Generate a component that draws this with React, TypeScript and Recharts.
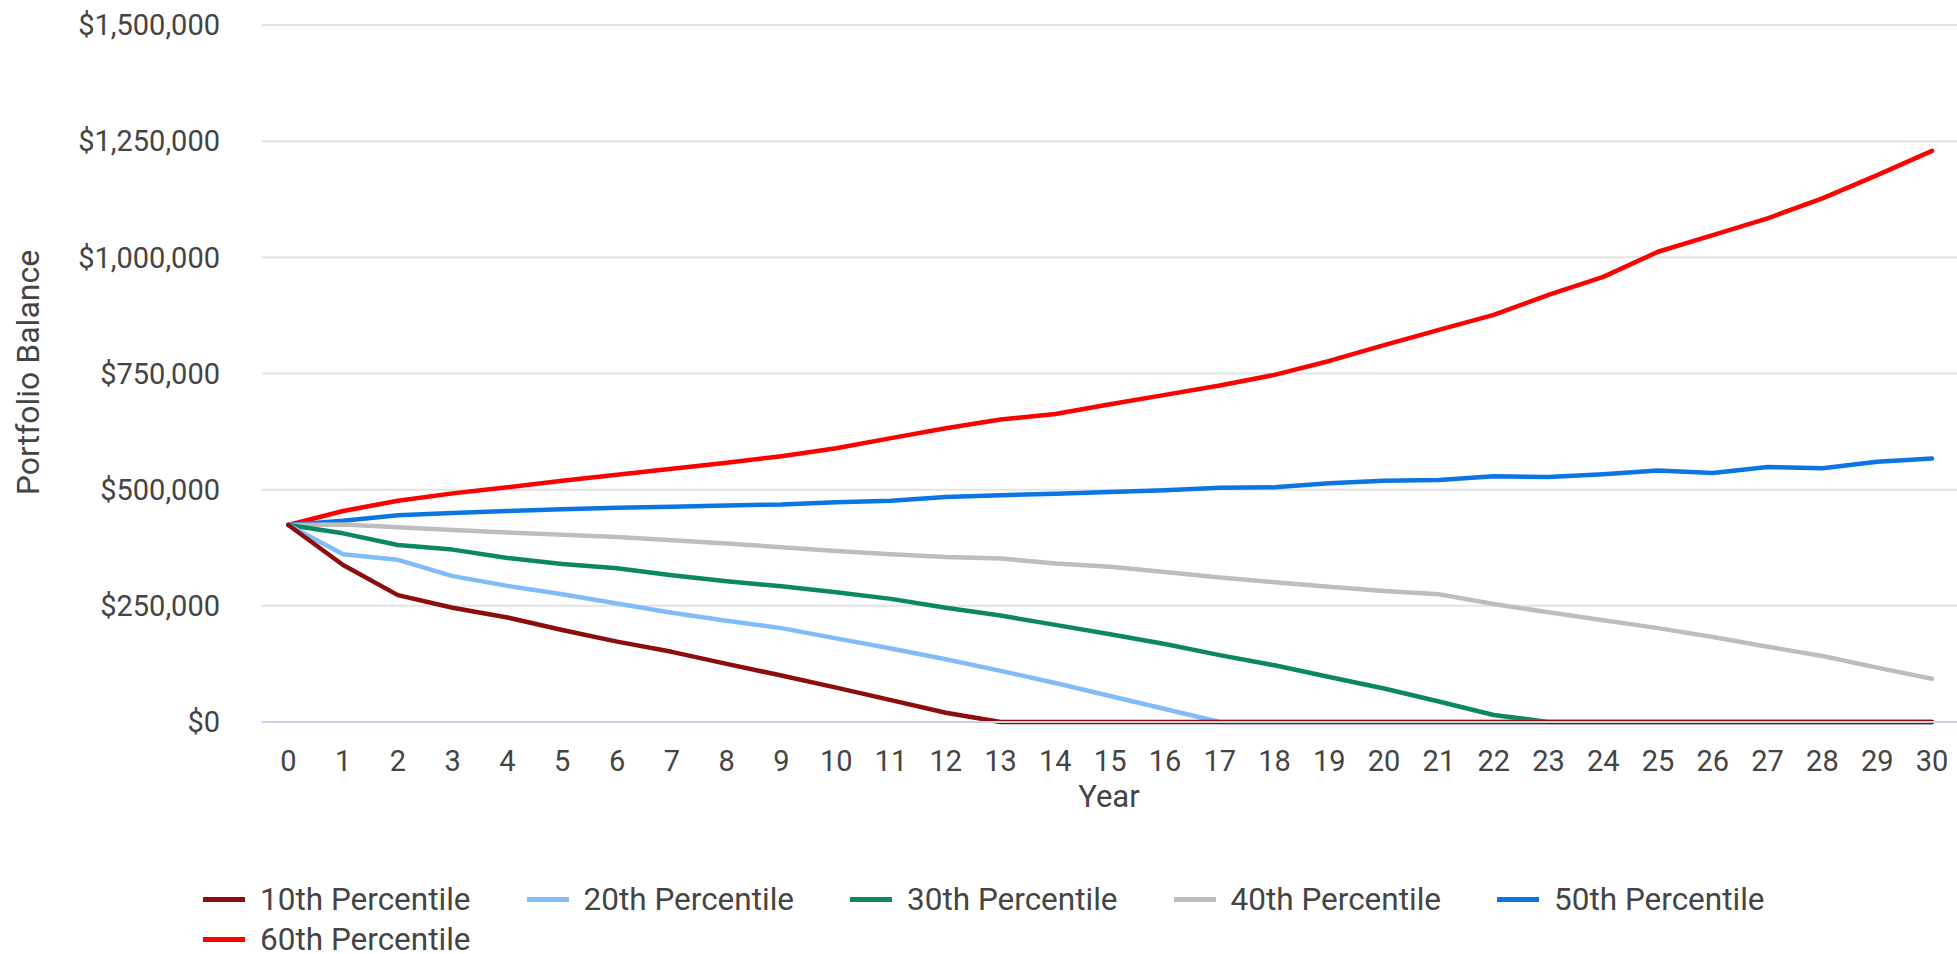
import React from 'react';
import { LineChart, Line, XAxis, YAxis, CartesianGrid, Legend } from 'recharts';

// Simulation years
const years = [0, 1, 2, 3, 4, 5, 6, 7, 8, 9, 10, 11, 12, 13, 14, 15, 16, 17, 18, 19, 20, 21, 22, 23, 24, 25, 26, 27, 28, 29, 30];

// Portfolio balance by percentile outcome (USD)
const p10 = [424000, 338000, 273000, 246000, 225000, 198000, 173000, 151000, 125000, 100000, 74000, 47000, 20000, 0, 0, 0, 0, 0, 0, 0, 0, 0, 0, 0, 0, 0, 0, 0, 0, 0, 0];
const p20 = [424000, 361000, 349000, 314000, 293000, 275000, 255000, 235000, 218000, 202000, 180000, 158000, 135000, 110000, 84000, 56000, 28000, 0, 0, 0, 0, 0, 0, 0, 0, 0, 0, 0, 0, 0, 0];
const p30 = [424000, 406000, 381000, 371000, 353000, 340000, 331000, 316000, 303000, 292000, 279000, 265000, 246000, 229000, 209000, 189000, 168000, 144000, 122000, 97000, 72000, 44000, 15000, 0, 0, 0, 0, 0, 0, 0, 0];
const p40 = [424000, 425000, 419000, 413000, 408000, 403000, 398000, 391000, 384000, 376000, 368000, 361000, 355000, 352000, 341000, 334000, 323000, 311000, 301000, 291000, 282000, 275000, 254000, 236000, 219000, 202000, 183000, 162000, 142000, 117000, 93000];
const p50 = [424000, 433000, 445000, 450000, 454000, 458000, 461000, 463000, 466000, 468000, 473000, 476000, 484000, 488000, 491000, 495000, 499000, 504000, 505000, 514000, 519000, 521000, 529000, 527000, 533000, 541000, 536000, 549000, 546000, 560000, 567000];
const p60 = [424000, 454000, 476000, 492000, 505000, 519000, 532000, 545000, 558000, 572000, 589000, 611000, 632000, 651000, 663000, 684000, 704000, 724000, 747000, 777000, 811000, 844000, 876000, 919000, 958000, 1012000, 1048000, 1084000, 1127000, 1177000, 1229000];

const seriesKeys = ['p10', 'p20', 'p30', 'p40', 'p50', 'p60'];
const seriesNames = ['10th Percentile', '20th Percentile', '30th Percentile', '40th Percentile', '50th Percentile', '60th Percentile'];
const seriesColors = ['#8c0d0d', '#80bcf8', '#0b8763', '#bdbdbd', '#0b75e3', '#ff0000'];

const yTicks = [0, 250000, 500000, 750000, 1000000, 1250000, 1500000];

const seriesValues = [p10, p20, p30, p40, p50, p60];
const data = years.map((year, i) => {
  const row: Record<string, number> = { year };
  seriesKeys.forEach((key, s) => {
    row[key] = seriesValues[s][i];
  });
  return row;
});

// Lower percentiles are painted last so they sit on top where lines meet
const drawOrder = [5, 4, 3, 2, 1, 0];

const FONT = 'Roboto';
const TEXT_COLOR = '#444444';

const formatDollars = (v: number) => '$' + v.toLocaleString('en-US');

const renderYTitle = () => (
  <text
    x={39}
    y={372.5}
    transform="rotate(-90, 39, 372.5)"
    textAnchor="middle"
    fontFamily={FONT}
    fontSize={32}
    fill={TEXT_COLOR}
  >
    Portfolio Balance
  </text>
);

const renderXTitle = () => (
  <text x={1109} y={806.7} textAnchor="middle" fontFamily={FONT} fontSize={31} fill={TEXT_COLOR}>
    Year
  </text>
);

const renderLegend = (props: any) => {
  const payload = (props.payload || [])
    .slice()
    .sort((a: any, b: any) => seriesNames.indexOf(a.value) - seriesNames.indexOf(b.value));
  return (
    <div style={{ display: 'flex', flexWrap: 'wrap', width: 1640, margin: 0, padding: 0 }}>
      {payload.map((entry: any) => (
        <div
          key={entry.value}
          style={{ width: 323.5, height: 39.3, display: 'flex', alignItems: 'center' }}
        >
          <span style={{ display: 'inline-block', width: 42, height: 5, background: entry.color }} />
          <span
            style={{
              marginLeft: 15,
              fontFamily: FONT,
              fontSize: 31.5,
              color: TEXT_COLOR,
              lineHeight: '39.3px',
              whiteSpace: 'nowrap',
            }}
          >
            {entry.value}
          </span>
        </div>
      ))}
    </div>
  );
};

export default function App() {
  return (
    <div
      style={{
        position: 'absolute',
        left: 0,
        top: 0,
        width: 1957,
        height: 954,
        overflow: 'hidden',
        background: '#ffffff',
      }}
    >
      <LineChart
        width={1960}
        height={954}
        data={data}
        margin={{ top: 25, right: 0, bottom: 172, left: 0 }}
        style={{ fontFamily: FONT }}
      >
        <CartesianGrid vertical={false} stroke="#e3e3e3" strokeWidth={2} />
        <XAxis
          dataKey="year"
          type="category"
          interval={0}
          height={60}
          tickLine={false}
          tickSize={0}
          tickMargin={28.7}
          axisLine={{ stroke: '#c8d2ea', strokeWidth: 2 }}
          padding={{ left: 26.6, right: 28 }}
          tick={{ fill: TEXT_COLOR, fontSize: 29, fontFamily: FONT }}
          label={renderXTitle}
        />
        <YAxis
          width={261.7}
          domain={[0, 1500000]}
          ticks={yTicks}
          interval={0}
          axisLine={false}
          tickLine={false}
          tickSize={0}
          tickMargin={41.7}
          tickFormatter={formatDollars}
          tick={{ fill: TEXT_COLOR, fontSize: 29, fontFamily: FONT }}
          label={renderYTitle}
        />
        <Legend
          layout="horizontal"
          verticalAlign="middle"
          align="center"
          wrapperStyle={{ left: 203, top: 880.3, width: 1640 }}
          content={renderLegend}
        />
        {drawOrder.map((s) => (
          <Line
            key={seriesKeys[s]}
            type="linear"
            dataKey={seriesKeys[s]}
            name={seriesNames[s]}
            stroke={seriesColors[s]}
            strokeWidth={4.5}
            strokeLinejoin="round"
            strokeLinecap="round"
            dot={false}
            activeDot={false}
            isAnimationActive={false}
          />
        ))}
      </LineChart>
    </div>
  );
}
